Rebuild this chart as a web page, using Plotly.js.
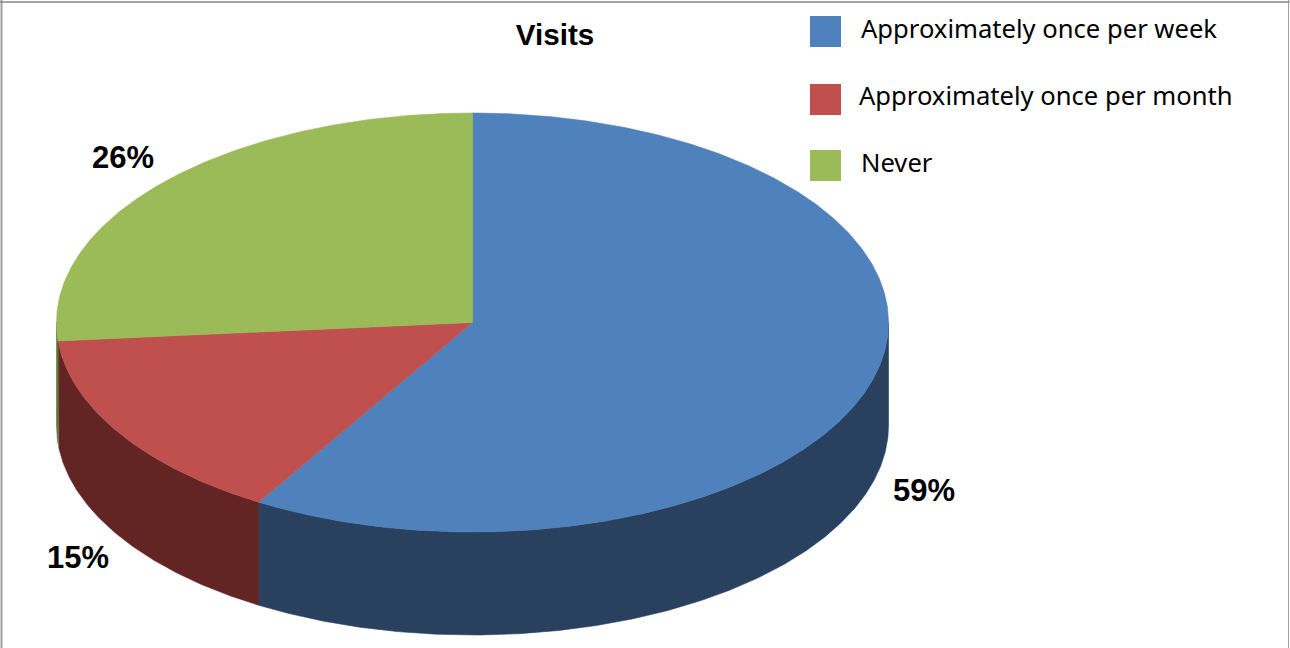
<!DOCTYPE html>
<html>
<head>
<meta charset="utf-8">
<script src="https://cdn.plot.ly/plotly-3.0.1.min.js"></script>
<style>html,body{margin:0;padding:0;background:#fff;overflow:hidden}#chart{width:1290px;height:648px}</style>
</head>
<body>
<div id="chart"></div>
<script>
const titleText = "Visits";
const categories = ["Approximately once per week", "Approximately once per month", "Never"];
const shares = [58.6, 15.0, 26.4];
const topColors = ["#4F81BD", "#C0504D", "#9BBB59"];
const wallColors = ["#29405F", "#632523", "#5F7530"];

// Projection of the tilted disc, in picture units
const cx = 472.5, cy = 322.5, rx = 416, ry = 209.5, depth = 103;
const labelAt = [[923.5, 490.5], [77.5, 557.5], [122.5, 157.5]];
const legendSwatchX = 825.5, legendY = [31.5, 99.5, 165.5], legendTextX = [859, 856.5, 859], legendTextY = [28, 95, 162];

const rim = (deg, dy) => {
  const a = deg * Math.PI / 180;
  return [cx + rx * Math.sin(a), cy - ry * Math.cos(a) + dy];
};
const total = shares.reduce((s, v) => s + v, 0);
const traces = [], tops = [];
let start = 0;
shares.forEach((v, i) => {
  const end = start + v / total * 360;
  // top face
  const tx = [cx], ty = [cy];
  for (let d = start; d < end; d += 0.5) { const p = rim(d, 0); tx.push(p[0]); ty.push(p[1]); }
  const pe = rim(end, 0); tx.push(pe[0], cx); ty.push(pe[1], cy);
  tops.push({x: tx, y: ty, type: "scatter", mode: "lines", fill: "toself", fillcolor: topColors[i],
    line: {color: topColors[i], width: 0.6}, name: categories[i], showlegend: false, hoverinfo: "name"});
  // visible wall: front half of the rim only
  const a = Math.max(start, 90), b = Math.min(end, 270);
  if (b > a) {
    const wx = [], wy = [];
    for (let d = a; d < b; d += 0.5) { const p = rim(d, 0); wx.push(p[0]); wy.push(p[1]); }
    const q = rim(b, 0); wx.push(q[0]); wy.push(q[1]);
    const q2 = rim(b, depth); wx.push(q2[0]); wy.push(q2[1]);
    for (let d = b; d > a; d -= 0.5) { const p = rim(d, depth); wx.push(p[0]); wy.push(p[1]); }
    const p2 = rim(a, depth); wx.push(p2[0], rim(a, 0)[0]); wy.push(p2[1], rim(a, 0)[1]);
    traces.push({x: wx, y: wy, type: "scatter", mode: "lines", fill: "toself", fillcolor: wallColors[i],
      line: {color: wallColors[i], width: 0.6}, showlegend: false, hoverinfo: "skip"});
  }
  start = end;
});

const swatches = {
  x: categories.map(() => legendSwatchX), y: legendY, type: "scatter", mode: "markers",
  marker: {symbol: "square", size: 31, color: topColors, line: {width: 0}},
  text: categories, hoverinfo: "text", showlegend: false
};

const annotations = [];
shares.forEach((v, i) => annotations.push({
  x: labelAt[i][0], y: labelAt[i][1], xref: "x", yref: "y", showarrow: false,
  text: "<b>" + Math.round(v) + "%</b>", xanchor: "center", yanchor: "middle",
  font: {family: "Liberation Sans", size: 31, color: "#000"}
}));
categories.forEach((c, i) => annotations.push({
  x: legendTextX[i], y: legendTextY[i], xref: "x", yref: "y", showarrow: false,
  text: c, xanchor: "left", yanchor: "middle",
  font: {family: "Noto Sans", size: 25.6, color: "#000"}
}));

const layout = {
  width: 1290, height: 648, margin: {l: 0, r: 0, t: 0, b: 0},
  paper_bgcolor: "#fff", plot_bgcolor: "#fff", showlegend: false,
  title: {text: "<b>" + titleText + "</b>", x: 555 / 1290, xanchor: "center", y: 1 - 35 / 648, yanchor: "middle",
    font: {family: "Liberation Sans", size: 29.6, color: "#000"}},
  xaxis: {range: [0, 1290], visible: false, fixedrange: true},
  yaxis: {range: [648, 0], visible: false, fixedrange: true},
  annotations: annotations,
  shapes: [
    {type: "line", xref: "paper", yref: "paper", x0: 1.5/1290, x1: 1.5/1290, y0: 0, y1: 1, line: {color: "#A0A0A0", width: 2}},
    {type: "line", xref: "paper", yref: "paper", x0: 0, x1: 1, y0: 1 - 2/648, y1: 1 - 2/648, line: {color: "#868686", width: 1.5}},
    {type: "line", xref: "paper", yref: "paper", x0: 1288.5/1290, x1: 1288.5/1290, y0: 0, y1: 1, line: {color: "#A0A0A0", width: 1}}
  ]
};
Plotly.newPlot("chart", traces.concat(tops, [swatches]), layout, {displayModeBar: false, staticPlot: true});
</script>
</body>
</html>
